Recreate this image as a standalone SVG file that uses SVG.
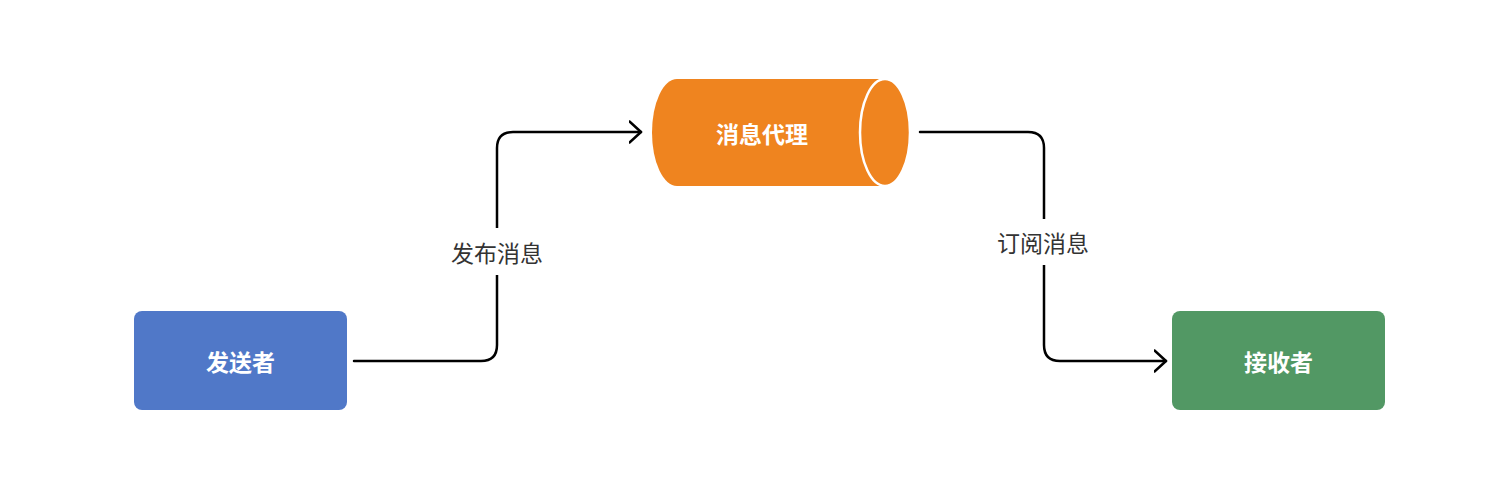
<svg xmlns="http://www.w3.org/2000/svg" width="1495" height="499" viewBox="0 0 1495 499">
<style>
.node-text{font-family:"Noto Sans CJK SC","Noto Sans",sans-serif;font-size:23px;font-weight:bold;fill:#ffffff;text-anchor:middle;dominant-baseline:central}
.edge{fill:none;stroke:#000000;stroke-width:2.5;stroke-linejoin:round;stroke-linecap:round}
.label{font-family:"Noto Sans CJK SC","Noto Sans",sans-serif;font-size:23px;fill:#333333;text-anchor:middle;dominant-baseline:central}
.label-bg{fill:#ffffff}
</style>
<defs>
<marker id="arrow" viewBox="0 0 14 24" refX="12.5" refY="12" markerWidth="14" markerHeight="24" markerUnits="userSpaceOnUse" orient="auto">
<path d="M1,1.5 L12.5,12 L1,22.5" fill="none" stroke="#000000" stroke-width="2.5" stroke-linecap="round" stroke-linejoin="round"/>
</marker>
</defs>
<rect width="1495" height="499" fill="#ffffff"/>
<g id="connectors">
<path class="edge" d="M354,361 H481 Q497,361 497,345 V148 Q497,132 513,132 H641" marker-end="url(#arrow)"/>
<rect class="label-bg" x="445" y="228" width="104" height="47"/>
<text class="label" x="497" y="251.5">发布消息</text>
<path class="edge" d="M920,132 H1028 Q1044,132 1044,148 V345 Q1044,361 1060,361 H1166" marker-end="url(#arrow)"/>
<rect class="label-bg" x="991" y="219" width="104" height="46"/>
<text class="label" x="1043" y="241.5">订阅消息</text>
</g>
<g id="sender">
<rect x="134" y="311" width="213" height="99" rx="8" fill="#5078c8"/>
<text class="node-text" x="240.5" y="360.5">发送者</text>
</g>
<g id="broker">
<path d="M677,79 H885 A25,53.5 0 0 1 885,186 H677 A25,53.5 0 0 1 677,79 Z" fill="#ef841f"/>
<ellipse cx="885" cy="132.5" rx="25" ry="53.5" fill="#ef841f" stroke="#ffffff" stroke-width="2.5"/>
<text class="node-text" x="762" y="132.5">消息代理</text>
</g>
<g id="receiver">
<rect x="1172" y="311" width="213" height="99" rx="8" fill="#529864"/>
<text class="node-text" x="1278.5" y="360.5">接收者</text>
</g>
</svg>
